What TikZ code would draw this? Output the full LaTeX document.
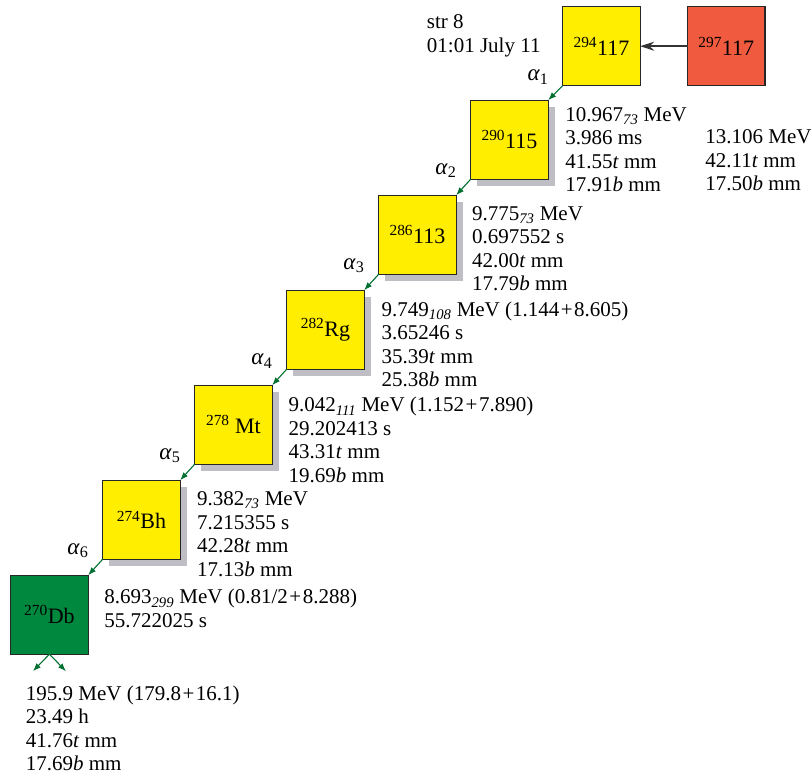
\documentclass[tikz,border=0pt]{standalone}
\usepackage{fontspec}
\setmainfont{Liberation Serif}
\usetikzlibrary{positioning,shadows,arrows.meta}

\definecolor{nucyellow}{RGB}{255,238,0}
\definecolor{nucred}{RGB}{240,90,62}
\definecolor{nucgreen}{RGB}{0,136,62}
\definecolor{alphagreen}{RGB}{0,112,48}
\definecolor{shadowgray}{RGB}{190,190,196}

\newcommand{\nuc}[2]{\textsuperscript{#1}#2}
\newcommand{\ksub}[1]{\textsubscript{\textit{#1}}}
\newcommand{\alp}[1]{\textit{α}\textsubscript{#1}}
\newcommand{\pl}{\hspace{1.5pt}+\hspace{1.5pt}}

\tikzset{
  nucl/.style={draw=black!85, line width=1.1pt, minimum width=77.5pt,
    minimum height=79pt, inner sep=0pt, outer sep=0pt,
    font=\fontsize{22}{24}\selectfont},
  chainbox/.style={nucl, fill=nucyellow,
    drop shadow={shadow xshift=6.5pt, shadow yshift=-6.5pt,
      fill=shadowgray, opacity=1}},
  data/.style={anchor=north west, inner sep=0pt, align=left,
    font=\fontsize{21}{23.4}\selectfont},
  alab/.style={inner sep=0pt, font=\fontsize{23}{24}\selectfont},
  decay/.style={alphagreen, line width=1.1pt, -{Latex[length=8pt,width=6pt]}},
  capt/.style={black!80, line width=1.6pt, -{Stealth[length=14pt,width=9pt]}},
}

\begin{document}
\begin{tikzpicture}[x=1pt, y=-1pt]
  \useasboundingbox (0,0) rectangle (812,778);

  % chain of boxes
  \node[nucl, fill=nucyellow, anchor=north west] (b294) at (562.7,6.7) {\nuc{294}{117}};
  \node[nucl, fill=nucred, right=47.3pt of b294] (b297) {\nuc{297}{117}};
  \node[chainbox, below left=14.5pt and 14.5pt of b294.south west, anchor=north east] (b290) {\nuc{290}{115}};
  \node[chainbox, below left=16pt and 14.5pt of b290.south west, anchor=north east] (b286) {\nuc{286}{113}};
  \node[chainbox, below left=16pt and 14.5pt of b286.south west, anchor=north east] (b282) {\nuc{282}{Rg}};
  \node[chainbox, below left=16pt and 14.5pt of b282.south west, anchor=north east] (b278) {\nuc{278}{ Mt}};
  \node[chainbox, below left=16pt and 14.5pt of b278.south west, anchor=north east] (b274) {\nuc{274}{Bh}};
  \node[nucl, fill=nucgreen, below left=16pt and 14.5pt of b274.south west, anchor=north east] (b270) {\nuc{270}{Db}};

  \coordinate[below left=17pt and 16.5pt of b270.south] (ffl);
  \coordinate[below right=17pt and 16.5pt of b270.south] (ffr);

  % arrows
  \draw[capt] (b297) -- (b294);
  \draw[decay] (b294.south west) -- (b290.north east);
  \draw[decay] (b290.south west) -- (b286.north east);
  \draw[decay] (b286.south west) -- (b282.north east);
  \draw[decay] (b282.south west) -- (b278.north east);
  \draw[decay] (b278.south west) -- (b274.north east);
  \draw[decay] (b274.south west) -- (b270.north east);
  \draw[decay] (b270.south) -- (ffl);
  \draw[decay] (b270.south) -- (ffr);

  % alpha labels
  \node[alab, above left=1pt and 14pt of b294.south west] (a1) {\alp{1}};
  \node[alab, above left=1pt and 14pt of b290.south west] (a2) {\alp{2}};
  \node[alab, above left=1pt and 14pt of b286.south west] (a3) {\alp{3}};
  \node[alab, above left=1pt and 14pt of b282.south west] (a4) {\alp{4}};
  \node[alab, above left=1pt and 14pt of b278.south west] (a5) {\alp{5}};
  \node[alab, above left=1pt and 14pt of b274.south west] (a6) {\alp{6}};

  % data
  \node[data, below left=8pt and 22pt of b294.north west, anchor=north east] (dstr) {str 8\\01:01 July 11};
  \node[data, below right=7pt and 17pt of b290.north east] (d290) {10.967\ksub{73} MeV\\3.986 ms\\41.55\textit{t} mm\\17.91\textit{b} mm};
  \node[data, below right=44pt and 17.7pt of b297.south west] (d297) {13.106 MeV\\42.11\textit{t} mm\\17.50\textit{b} mm};
  \node[data, below right=11pt and 15.7pt of b286.north east] (d286) {9.775\ksub{73} MeV\\0.697552 s\\42.00\textit{t} mm\\17.79\textit{b} mm};
  \node[data, below right=11.5pt and 17.3pt of b282.north east] (d282) {9.749\ksub{108} MeV (1.144\pl 8.605)\\3.65246 s\\35.39\textit{t} mm\\25.38\textit{b} mm};
  \node[data, below right=12pt and 16.3pt of b278.north east] (d278) {9.042\ksub{111} MeV (1.152\pl 7.890)\\29.202413 s\\43.31\textit{t} mm\\19.69\textit{b} mm};
  \node[data, below right=11.5pt and 16.7pt of b274.north east] (d274) {9.382\ksub{73} MeV\\7.215355 s\\42.28\textit{t} mm\\17.13\textit{b} mm};
  \node[data, below right=14pt and 16pt of b270.north east] (d270) {8.693\ksub{299} MeV (0.81/2\pl 8.288)\\55.722025 s};
  \node[data, below right=31.5pt and 15pt of b270.south west] (dff) {195.9 MeV (179.8\pl 16.1)\\23.49 h\\41.76\textit{t} mm\\17.69\textit{b} mm};
\end{tikzpicture}
\end{document}
